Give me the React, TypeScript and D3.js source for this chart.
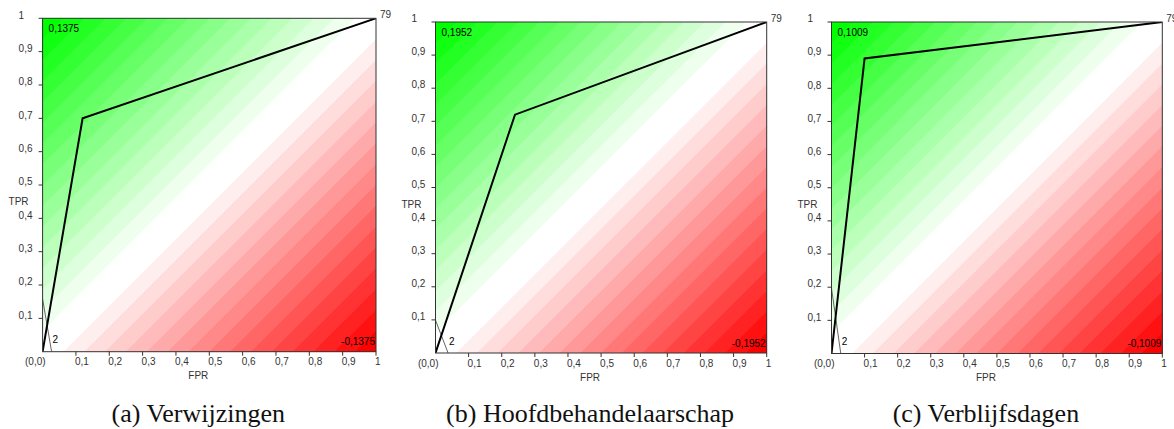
import React from "react";
import * as d3 from "d3";

const W = 1174;
const H = 429;

// ---- data ----
const captions = ["(a) Verwijzingen", "(b) Hoofdbehandelaarschap", "(c) Verblijfsdagen"];
const rocFPR = [
  [0, 0.12, 1],
  [0, 0.24, 1],
  [0, 0.1, 1],
];
const rocTPR = [
  [0, 0.7, 1],
  [0, 0.72, 1],
  [0, 0.89, 1],
];
const isoTPRIntercept = [0.158, 0.099, 0.197];
const isoFPRIntercept = [0.027, 0.038, 0.028];
const maxLabels = ["0,1375", "0,1952", "0,1009"];
const minLabels = ["-0,1375", "-0,1952", "-0,1009"];
const startLabel = "2";
const endLabel = "79";
const tickValues = [0, 0.1, 0.2, 0.3, 0.4, 0.5, 0.6, 0.7, 0.8, 0.9, 1];
const xTickLabels = ["(0,0)", "0,1", "0,2", "0,3", "0,4", "0,5", "0,6", "0,7", "0,8", "0,9", "1"];
const yTickLabels = ["", "0,1", "0,2", "0,3", "0,4", "0,5", "0,6", "0,7", "0,8", "0,9", "1"];

// ---- layout ----
const layouts = [
  { x0: 42.6, x1: 376, y0: 18.3, y1: 351.7 },
  { x0: 435.5, x1: 766.7, y0: 22, y1: 353 },
  { x0: 831.5, x1: 1162.3, y0: 22, y1: 353.5 },
];

const NB = 16;
const SANS = "'Liberation Sans', Arial, sans-serif";
const SERIF = "'Liberation Serif', 'Times New Roman', serif";

function Panel({ i }: { i: number }) {
  const L = layouts[i];
  const x = d3.scaleLinear().domain([0, 1]).range([L.x0, L.x1]);
  const y = d3.scaleLinear().domain([0, 1]).range([L.y1, L.y0]);
  const green = d3.interpolateRgb("#ffffff", "#00ff00");
  const red = d3.interpolateRgb("#ffffff", "#ff0000");
  const line = d3
    .line<[number, number]>()
    .x((d) => x(d[0]))
    .y((d) => y(d[1]));
  const levels = d3.range(1, NB);
  const greenPoly = (lo: number): [number, number][] => [
    [-2, -2 + lo],
    [3, 3 + lo],
    [-2, 3 + lo],
  ];
  const redPoly = (lo: number): [number, number][] => [
    [-2, -2 - lo],
    [3, 3 - lo],
    [3, -2 - lo],
  ];
  const roc: [number, number][] = rocFPR[i].map((f, j) => [f, rocTPR[i][j]]);
  const iso: [number, number][] = [
    [0, isoTPRIntercept[i]],
    [isoFPRIntercept[i], 0],
  ];
  const cid = `clip${i}`;
  const cx = (L.x0 + L.x1) / 2 - 11;
  return (
    <g>
      <defs>
        <clipPath id={cid}>
          <rect x={L.x0} y={L.y0} width={L.x1 - L.x0} height={L.y1 - L.y0} />
        </clipPath>
      </defs>
      <g clipPath={`url(#${cid})`}>
        <rect x={L.x0} y={L.y0} width={L.x1 - L.x0} height={L.y1 - L.y0} fill="#ffffff" />
        {levels.map((k) => (
          <path key={"g" + k} d={line(greenPoly(k / NB)) + "Z"} fill={green(k / (NB - 1))} />
        ))}
        {levels.map((k) => (
          <path key={"r" + k} d={line(redPoly(k / NB)) + "Z"} fill={red(k / (NB - 1))} />
        ))}
        <path d={line(iso) || ""} fill="none" stroke="#666" strokeWidth={1} />
        <path d={line(roc) || ""} fill="none" stroke="#000" strokeWidth={2} strokeLinejoin="miter" />
      </g>
      <rect
        x={L.x0}
        y={L.y0}
        width={L.x1 - L.x0}
        height={L.y1 - L.y0}
        fill="none"
        stroke="#333"
        strokeWidth={1}
      />
      {/* y ticks */}
      {tickValues.map((t, j) => (
        <g key={"yt" + j}>
          {j > 0 && <line x1={L.x0 - 4} x2={L.x0} y1={y(t)} y2={y(t)} stroke="#333" />}
          <text
            x={L.x0 - 24}
            y={y(t) - 3.3}
            dominantBaseline="central"
            fontFamily={SANS}
            fontSize={10}
            fill="#333"
          >
            {yTickLabels[j]}
          </text>
        </g>
      ))}
      {/* x ticks */}
      {tickValues.map((t, j) => (
        <g key={"xt" + j}>
          {j > 0 && <line x1={x(t)} x2={x(t)} y1={L.y1} y2={L.y1 + 4} stroke="#333" />}
          <text
            x={j === 0 ? x(t) + 3 : x(t) - 1}
            y={L.y1 + 10}
            dominantBaseline="central"
            textAnchor={j === 0 ? "end" : "start"}
            fontFamily={SANS}
            fontSize={10}
            fill="#333"
          >
            {xTickLabels[j]}
          </text>
        </g>
      ))}
      <text x={cx} y={L.y1 + 24} dominantBaseline="central" textAnchor="middle" fontFamily={SANS} fontSize={10} fill="#333">
        FPR
      </text>
      <text
        x={L.x0 - 34}
        y={L.y0 + 0.55 * (L.y1 - L.y0)}
        dominantBaseline="central"
        fontFamily={SANS}
        fontSize={10}
        fill="#333"
      >
        TPR
      </text>
      <text x={L.x0 + 6} y={L.y0 + 10} dominantBaseline="central" fontFamily={SANS} fontSize={10} fill="#000">
        {maxLabels[i]}
      </text>
      <text
        x={L.x1 - 1}
        y={L.y1 - 10}
        dominantBaseline="central"
        textAnchor="end"
        fontFamily={SANS}
        fontSize={10}
        fill="#000"
      >
        {minLabels[i]}
      </text>
      <text x={x(isoFPRIntercept[i]) + 1} y={L.y1 - 12} dominantBaseline="central" fontFamily={SANS} fontSize={10} fill="#000">
        {startLabel}
      </text>
      <text x={L.x1 + 4} y={L.y0 - 4} dominantBaseline="central" fontFamily={SANS} fontSize={10} fill="#333">
        {endLabel}
      </text>
      <text x={cx} y={421.5} textAnchor="middle" fontFamily={SERIF} fontSize={26} fill="#111">
        {captions[i]}
      </text>
    </g>
  );
}

export default function App() {
  return (
    <svg
      width={W}
      height={H}
      viewBox={`0 0 ${W} ${H}`}
      style={{ position: "absolute", left: 0, top: 0, background: "#fff" }}
    >
      <rect width={W} height={H} fill="#fff" />
      {layouts.map((_, i) => (
        <Panel key={i} i={i} />
      ))}
    </svg>
  );
}
